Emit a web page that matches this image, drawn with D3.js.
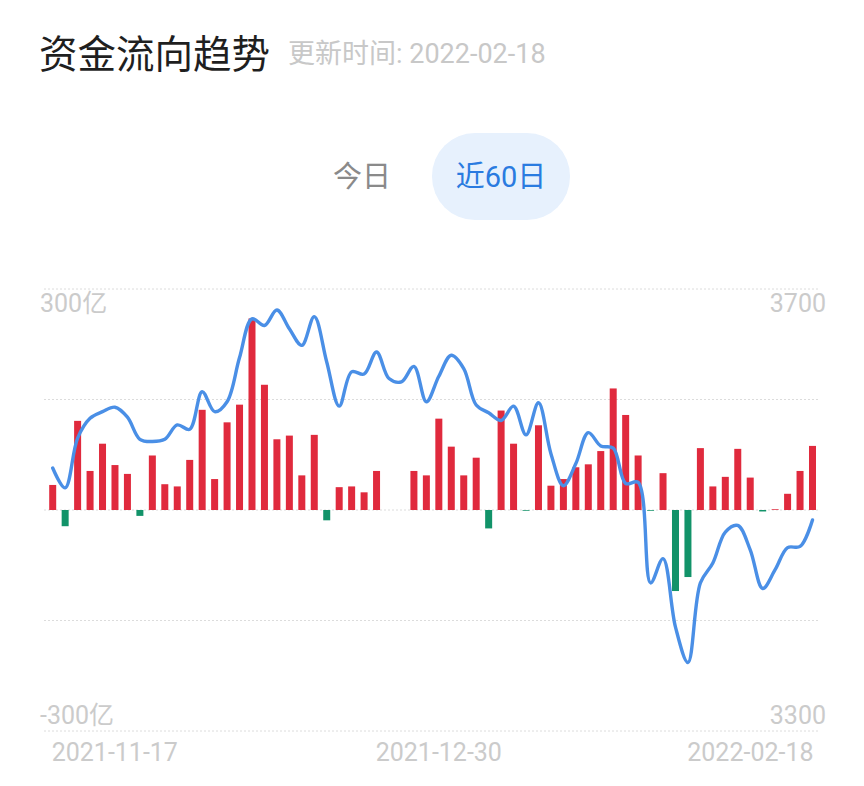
<!DOCTYPE html>
<html>
<head>
<meta charset="utf-8">
<script src="https://cdn.jsdelivr.net/npm/d3@7"></script>
<style>
  html,body{margin:0;padding:0;background:#fff;}
  svg{display:block;font-family:Roboto,"Noto Sans CJK SC",sans-serif;}
</style>
</head>
<body>
<svg id="chart" width="864" height="786"></svg>
<script>
// 交易日
const dates = [
  '2021-11-17','2021-11-18','2021-11-19','2021-11-22','2021-11-23','2021-11-24','2021-11-25','2021-11-26','2021-11-29','2021-11-30',
  '2021-12-01','2021-12-02','2021-12-03','2021-12-06','2021-12-07','2021-12-08','2021-12-09','2021-12-10','2021-12-13','2021-12-14',
  '2021-12-15','2021-12-16','2021-12-17','2021-12-20','2021-12-21','2021-12-22','2021-12-23','2021-12-24','2021-12-27','2021-12-28',
  '2021-12-29','2021-12-30','2021-12-31','2022-01-04','2022-01-05','2022-01-06','2022-01-07','2022-01-10','2022-01-11','2022-01-12',
  '2022-01-13','2022-01-14','2022-01-17','2022-01-18','2022-01-19','2022-01-20','2022-01-21','2022-01-24','2022-01-25','2022-01-26',
  '2022-01-27','2022-01-28','2022-02-07','2022-02-08','2022-02-09','2022-02-10','2022-02-11','2022-02-14','2022-02-15','2022-02-16',
  '2022-02-17','2022-02-18'
];
// 资金净流入（亿）
const flow = [
  34,-22,121,53,90,61,49,-8,74,35,
  32,68,136,42,119,143,260,170,96,101,
  47,102,-14,31,32,24,53,0,0,53,
  47,124,86,47,71,-25,135,90,-1,115,
  33,42,58,62,80,165,129,74,-1,50,
  -110,-91,84,32,45,83,44,-2,1,22,
  53,87
];
// 指数
const index = [
  3538,3520,3565,3583,3589,3593,3584,3564,3562,3564,
  3577,3573,3607,3589,3598,3638,3673,3667,3681,3664,
  3649,3675,3634,3594,3625,3623,3643,3619,3616,3630,
  3598,3621,3640,3628,3595,3588,3581,3594,3568,3597,
  3551,3522,3542,3570,3558,3556,3524,3525,3434,3456,
  3394,3362,3434,3452,3480,3486,3464,3429,3446,3466,
  3467,3491
];
const leftTicks = [300, 150, 0, -150, -300];
const leftLabels = ['300亿', '', '', '', '-300亿'];
const rightLabels = ['3700', '', '', '', '3300'];
const dateTicks = ['2021-11-17', '2021-12-30', '2022-02-18'];

const svg = d3.select('#chart');

// header
svg.append('text').attr('x', 39).attr('y', 68)
  .attr('font-size', 38.5).attr('fill', '#1f1f1f')
  .attr('font-family', '"Noto Sans CJK SC",sans-serif')
  .text('资金流向趋势');
svg.append('text').attr('x', 288).attr('y', 63)
  .attr('font-size', 27).attr('fill', '#c8c8c8')
  .text('更新时间: 2022-02-18');

// tabs
svg.append('text').attr('x', 362).attr('y', 187).attr('text-anchor', 'middle')
  .attr('font-size', 29).attr('fill', '#8a8a8a')
  .attr('font-family', '"Noto Sans CJK SC",sans-serif')
  .text('今日');
svg.append('rect').attr('x', 432).attr('y', 133).attr('width', 138).attr('height', 87)
  .attr('rx', 43).attr('fill', '#e7f1fd');
svg.append('text').attr('x', 501).attr('y', 187).attr('text-anchor', 'middle')
  .attr('font-size', 29).attr('fill', '#2a7be0')
  .text('近60日');

// scales
const x = d3.scalePoint().domain(d3.range(dates.length)).range([52.7, 812.5]);
const yL = d3.scaleLinear().domain([-300, 300]).range([731, 289]);
const yR = d3.scaleLinear().domain([3300, 3700]).range([731, 289]);
const barW = 7;

// grid
const grid = svg.append('g');
grid.selectAll('line').data(leftTicks).join('line')
  .attr('x1', 44).attr('x2', 819)
  .attr('y1', d => yL(d)).attr('y2', d => yL(d))
  .attr('stroke', '#dcdcdc').attr('stroke-width', 1).attr('stroke-dasharray', '2,2');

// axis labels
const lab = svg.append('g').attr('font-size', 25).attr('fill', '#cbcbcb');
leftTicks.forEach((t, i) => {
  if (!leftLabels[i]) return;
  const y = i === 0 ? yL(t) + 23 : yL(t) - 7;
  lab.append('text').attr('x', 40).attr('y', y).text(leftLabels[i]);
  lab.append('text').attr('x', 826).attr('y', y).attr('text-anchor', 'end').text(rightLabels[i]);
});

// bars
svg.append('g').selectAll('rect').data(flow).join('rect')
  .attr('x', (d, i) => x(i) - barW / 2)
  .attr('width', barW)
  .attr('y', d => d >= 0 ? yL(d) : yL(0))
  .attr('height', d => Math.abs(yL(d) - yL(0)))
  .attr('fill', d => d >= 0 ? '#e02a3d' : '#129369');

// line
const line = d3.line()
  .x((d, i) => x(i))
  .y(d => yR(d))
  .curve(d3.curveCatmullRom.alpha(0.5));
svg.append('path').attr('d', line(index))
  .attr('fill', 'none').attr('stroke', '#4a8fe6').attr('stroke-width', 3.4)
  .attr('stroke-linejoin', 'round').attr('stroke-linecap', 'round');

// date labels
const dl = svg.append('g').attr('font-size', 25).attr('fill', '#cbcbcb');
dateTicks.forEach((d, k) => {
  const i = dates.indexOf(d);
  const anchor = k === 0 ? 'start' : k === dateTicks.length - 1 ? 'end' : 'middle';
  const px = k === 0 ? x(i) - 1 : k === dateTicks.length - 1 ? x(i) + 1 : x(i);
  dl.append('text').attr('x', px).attr('y', 761).attr('text-anchor', anchor).text(d);
});
</script>
</body>
</html>
